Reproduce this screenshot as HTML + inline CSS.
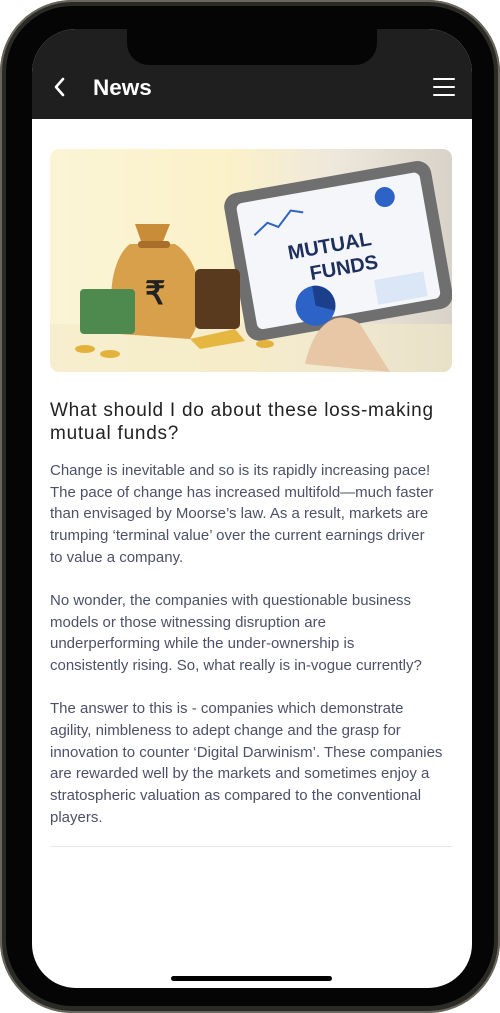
<!DOCTYPE html>
<html><head><meta charset="utf-8">
<style>
*{margin:0;padding:0;box-sizing:border-box}
body{width:500px;height:1013px;background:#fff;position:relative;overflow:hidden;font-family:"Liberation Sans",sans-serif}
#phone{position:absolute;left:0;top:0;width:500px;height:1013px;border-radius:72px;background:#2a2a26;box-shadow:inset 0 0 0 2px #6b665c}
#bezel{position:absolute;left:6px;top:6px;width:488px;height:1000px;border-radius:66px;background:#050505}
#screen{position:absolute;left:32px;top:29px;width:440px;height:959px;border-radius:44px;background:#fff;overflow:hidden}
#header{position:absolute;left:0;top:0;width:440px;height:90px;background:#1f1f1f}
#notch{position:absolute;left:127px;top:29px;width:250px;height:36px;background:#050505;border-radius:0 0 22px 22px}
#title{position:absolute;left:93px;top:75px;color:#fff;font-weight:bold;font-size:22.5px}
#back{position:absolute;left:52px;top:76px;color:#fff}
#menu{position:absolute;left:433px;top:78px;width:22px;height:18px}
#menu div{height:2.4px;background:#fff;margin-bottom:5.4px;border-radius:1px}
#hero{position:absolute;left:50px;top:149px;width:402px;height:223px;border-radius:9px;overflow:hidden;background:linear-gradient(90deg,#fbf5d6 0%,#fbf1c9 45%,#efe8dc 70%,#d8d2c8 100%)}
#h1{position:absolute;left:50px;top:399px;font-size:19px;letter-spacing:0.75px;line-height:23px;color:#222}
#body{position:absolute;left:50px;top:460px;font-size:15px;line-height:21.65px;color:#4d5068;white-space:nowrap}
#div{position:absolute;left:50px;top:846px;width:402px;height:1px;background:#e6e8ee}
#home{position:absolute;left:171px;top:976px;width:161px;height:5px;border-radius:3px;background:#000}
</style></head><body>
<div id="phone"></div>
<div id="bezel"></div>
<div id="screen"><div id="header"></div></div>
<div id="notch"></div>
<svg id="back" width="14" height="22" viewBox="0 0 14 22"><path d="M11 3 L4 11 L11 19" stroke="#fff" stroke-width="2.6" fill="none" stroke-linecap="round" stroke-linejoin="round"/></svg>
<div id="title">News</div>
<div id="menu"><div></div><div></div><div></div></div>
<div id="hero">
<svg width="402" height="223" viewBox="0 0 402 223">
<rect x="0" y="175" width="402" height="48" fill="#f3e9c8" opacity=".6"/>
<g transform="rotate(-10 300 110)"><rect x="185" y="25" width="210" height="150" rx="14" fill="#6f6f6f"/><rect x="197" y="36" width="186" height="128" rx="6" fill="#f4f6fa"/>
<text x="240" y="100" font-family="Liberation Sans" font-weight="bold" font-size="20" fill="#1e2f5e">MUTUAL</text>
<text x="258" y="124" font-family="Liberation Sans" font-weight="bold" font-size="20" fill="#1e2f5e">FUNDS</text>
<circle cx="258" cy="150" r="20" fill="#2d63c6"/><path d="M258 150 L258 130 A20 20 0 0 1 276 158 Z" fill="#1b3f8a"/>
<rect x="320" y="135" width="50" height="25" fill="#dbe6f6"/><circle cx="345" cy="55" r="10" fill="#2d63c6"/><path d="M210 70 l15-10 l10 6 l15-14 l12 4" stroke="#2d63c6" fill="none" stroke-width="2"/></g>
<path d="M255 215 C265 170 290 160 310 175 L340 223 Z" fill="#e8c7a6"/>
<path d="M80 95 C60 110 55 160 70 185 L140 190 C160 160 150 110 125 95 Z" fill="#d9a04c"/>
<path d="M85 75 L120 75 L112 95 L92 95 Z" fill="#c98d3a"/><rect x="88" y="92" width="32" height="7" rx="3" fill="#a86e2a"/>
<text x="95" y="155" font-family="Liberation Sans" font-weight="bold" font-size="32" fill="#222">₹</text>
<rect x="30" y="140" width="55" height="45" rx="4" fill="#4e8a4e"/><rect x="145" y="120" width="45" height="60" rx="5" fill="#5a3a1e"/>
<path d="M140 190 L185 180 L195 192 L150 200 Z" fill="#e5b640"/>
<ellipse cx="35" cy="200" rx="10" ry="4" fill="#e3b23c"/><ellipse cx="60" cy="205" rx="10" ry="4" fill="#e3b23c"/><ellipse cx="215" cy="195" rx="9" ry="4" fill="#e3b23c"/>
</svg></div>
<div id="h1">What should I do about these loss-making<br>mutual funds?</div>
<div id="body">Change is inevitable and so is its rapidly increasing pace!<br>The pace of change has increased multifold—much faster<br>than envisaged by Moorse’s law. As a result, markets are<br>trumping ‘terminal value’ over the current earnings driver<br>to value a company.<br><br>No wonder, the companies with questionable business<br>models or those witnessing disruption are<br>underperforming while the under-ownership is<br>consistently rising. So, what really is in-vogue currently?<br><br>The answer to this is - companies which demonstrate<br>agility, nimbleness to adept change and the grasp for<br>innovation to counter ‘Digital Darwinism’. These companies<br>are rewarded well by the markets and sometimes enjoy a<br>stratospheric valuation as compared to the conventional<br>players.</div>
<div id="div"></div>
<div id="home"></div>
</body></html>
